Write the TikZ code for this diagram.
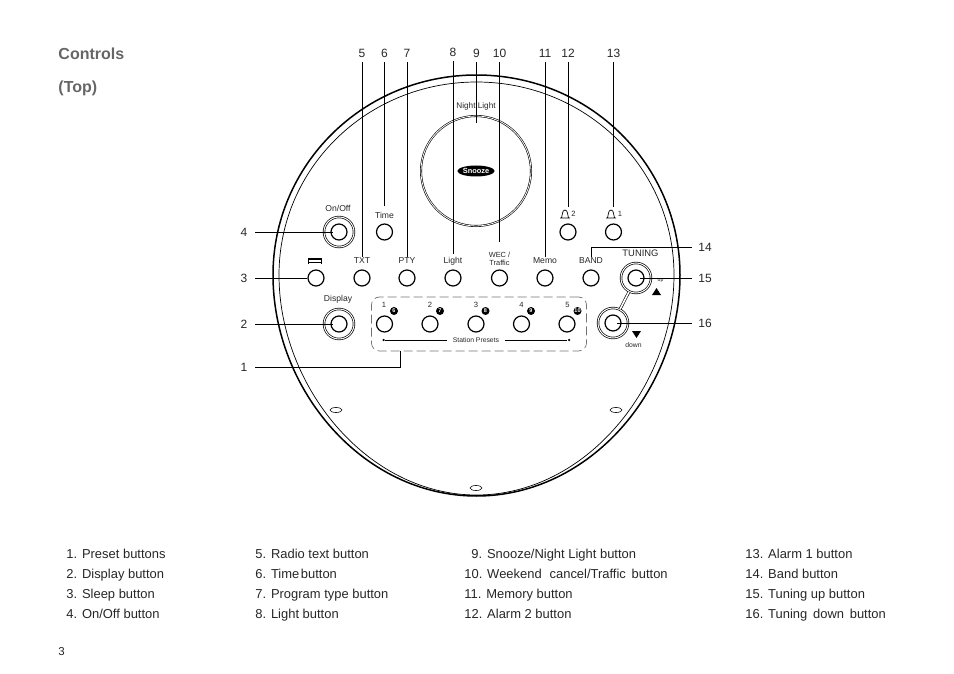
\documentclass[tikz,border=0pt]{standalone}
\usepackage{fontspec}
\setmainfont{Liberation Sans}
\usepackage{tikz}
\usetikzlibrary{shapes}
\newcommand{\bell}[1]{\draw[line width=0.7pt,shift={(#1)}] (-5,4) -- (5,4) (-3.6,4) .. controls (-2.6,2) and (-3,-4) .. (0,-4) .. controls (3,-4) and (2.6,2) .. (3.6,4);}
\begin{document}
\begin{tikzpicture}[x=1pt,y=-1pt,
line width=0.9pt,
numl/.style={inner sep=0pt,minimum width=22pt,font=\fontsize{12}{14}\selectfont,text=black!85},
numt/.style={inner sep=0pt,minimum height=18pt,font=\fontsize{12}{14}\selectfont,text=black!85},
numr/.style={inner sep=0pt,minimum width=26pt,font=\fontsize{12}{14}\selectfont,text=black!85},
btn/.style={circle,draw,line width=1.2pt,inner sep=0pt,minimum size=16pt},
bigbtn/.style={circle,draw,line width=0.7pt,double,double distance=1pt,inner sep=0pt,minimum size=30pt},
tag/.style={inner sep=1pt,font=\fontsize{8.6}{10}\selectfont,text=black!85},
tiny tag/.style={inner sep=0pt,font=\fontsize{6.8}{8}\selectfont,text=black!85},
digit/.style={inner sep=0pt,font=\fontsize{7.6}{9}\selectfont,text=black!85},
badge/.style={circle,fill=black,inner sep=0pt,minimum size=8pt,text=white,font=\fontsize{5.5}{6}\bfseries\selectfont},
dot/.style={circle,fill=black,inner sep=0pt,minimum size=2.5pt},
hole/.style={ellipse,draw,line width=0.6pt,inner sep=0pt,minimum width=12pt,minimum height=5pt},
item/.style={anchor=base west,inner sep=0pt,font=\fontsize{12.95}{15}\selectfont,text=black!85},
heading/.style={anchor=base west,inner sep=0pt,font=\fontsize{16}{18}\bfseries\selectfont,text=black!60}]
\useasboundingbox (0,0) rectangle (954,674);

\draw[line width=1.5pt] (476.5,75) .. controls (590,75) and (680,165) .. (680,275) .. controls (680,390) and (590,496) .. (476.5,496) .. controls (363,496) and (273,390) .. (273,275) .. controls (273,165) and (363,75) .. (476.5,75) -- cycle;
\draw[line width=0.7pt] (476.5,82) .. controls (586,82) and (674,168) .. (674,275) .. controls (674,386) and (586,495) .. (476.5,495) .. controls (367,495) and (279,386) .. (279,275) .. controls (279,168) and (367,82) .. (476.5,82) -- cycle;

\node [circle,draw,line width=0.6pt,double,double distance=0.8pt,inner sep=0pt,minimum size=110pt] (night) at (476,171) {};
\node [ellipse,fill=black,inner sep=0pt,minimum width=36pt,minimum height=11pt,text=white,font=\fontsize{7.4}{8}\bfseries\selectfont] (snooze) at (476,171) {Snooze};
\node [tag,font=\fontsize{8.2}{10}\selectfont] (nightlabel) at (476,106.5) {Night Light};

\node [hole] (h1) at (336,410) {};
\node [hole] (h2) at (616,410) {};
\node [hole] (h3) at (476,488) {};

\node [bigbtn] (onoff) at (339,232) {};
\node [btn] (onoffin) at (339,232) {};
\node [bigbtn] (display) at (339,324) {};
\node [btn] (displayin) at (339,324) {};
\node [bigbtn] (up) at (636,278) {};
\node [btn] (upin) at (636,278) {};
\node [bigbtn] (down) at (613,323) {};
\node [btn] (downin) at (613,323) {};
\draw [line width=0.6pt,double,double distance=1.6pt] (up) -- (down);

\node [btn] (time) at (384.5,232) {};
\node [btn] (alarmb) at (568,232) {};
\node [btn] (alarma) at (613.5,232) {};
\node [btn] (sleep) at (316,278) {};
\node [btn] (txt) at (362,278) {};
\node [btn] (pty) at (407,278) {};
\node [btn] (light) at (453,278) {};
\node [btn] (wec) at (499.5,278) {};
\node [btn] (memo) at (545,278) {};
\node [btn] (band) at (591,278) {};
\node [btn] (pa) at (384.5,324) {};
\node [btn] (pb) at (430,324) {};
\node [btn] (pc) at (476,324) {};
\node [btn] (pd) at (521.5,324) {};
\node [btn] (pe) at (567,324) {};

\node [tag] (lonoff) at (338,208) {On/Off};
\node [tag] (ltime) at (384.5,215.5) {Time};
\node [tag] (ltxt) at (362,261) {TXT};
\node [tag] (lpty) at (407,261) {PTY};
\node [tag] (llight) at (453,261) {Light};
\node [tag,align=center,font=\fontsize{7.4}{8.5}\selectfont] (lwec) at (499.5,259) {WEC /\\Traffic};
\node [tag] (lmemo) at (545,261) {Memo};
\node [tag] (lband) at (591,261) {BAND};
\node [tag,font=\fontsize{9.4}{11}\selectfont] (ltuning) at (640.5,253) {TUNING};
\node [tag] (ldisplay) at (338,299.5) {Display};
\node [tiny tag,font=\fontsize{5}{6}\selectfont] (lup) at (660.5,280.5) {up};
\node [tiny tag] (ldown) at (633.5,345) {down};

\node [digit] (la) at (384,305) {1};
\node [digit] (lb) at (430,305) {2};
\node [digit] (lc) at (476,305) {3};
\node [digit] (ld) at (521.5,305) {4};
\node [digit] (le) at (567.5,305) {5};
\node [badge] (ba) at (394,311) {6};
\node [badge] (bb) at (440,311) {7};
\node [badge] (bc) at (485.5,311) {8};
\node [badge] (bd) at (531,311) {9};
\node [badge] (be) at (577.5,311) {10};

\node [draw,black!55,dash pattern=on 9pt off 4pt,line width=0.7pt,rounded corners=8pt,inner sep=0pt,minimum width=215pt,minimum height=54pt] (presets) at (479,324) {};
\node [tiny tag,inner sep=5pt] (sp) at (476,340) {Station Presets};
\node [dot] (spl) at (383.5,340) {};
\node [dot] (spr) at (569,340) {};
\draw (spl) -- (sp);
\draw (sp) -- (spr);

\bell{565,214}
\bell{611,214}
\node [digit] (alb) at (573.5,214) {2};
\node [digit] (ala) at (620,214) {1};
\draw [line width=1.1pt] (309,259) -- (321,259);
\draw [line width=0.5pt] (309,262) -- (321,262);
\draw [line width=0.8pt] (308.5,258) -- (308.5,263.5) (321.5,258) -- (321.5,263.5);
\fill (652,295) -- (661,295) -- (656.5,288) -- cycle;
\fill (632,331) -- (641,331) -- (636.5,338) -- cycle;

\node [numl] (n4) at (244,232) {4};
\node [numl] (n3) at (244,278) {3};
\node [numl] (n2) at (244,324) {2};
\node [numl] (n1) at (244,367) {1};
\node [numt] (n5) at (362,53) {5};
\node [numt] (n6) at (384.5,53) {6};
\node [numt] (n7) at (407,53) {7};
\node [numt] (n8) at (453,52) {8};
\node [numt] (n9) at (476.5,53) {9};
\node [numt] (n10) at (499.5,53) {10};
\node [numt] (n11) at (545,53) {11};
\node [numt] (n12) at (568,53) {12};
\node [numt] (n13) at (613.5,53) {13};
\node [numr] (n14) at (705,247) {14};
\node [numr] (n15) at (705,278) {15};
\node [numr] (n16) at (705,323) {16};

\coordinate (nine) at (476.5,123);
\coordinate (twelve) at (568,207);
\coordinate (thirteen) at (613.5,207);
\coordinate (presetdrop) at (400.5,351);

\draw [shorten >=6pt] (n4) -- (onoffin.center);
\draw (n3) -- (sleep);
\draw [shorten >=6pt] (n2) -- (displayin.center);
\draw (n1) -| (presetdrop);
\draw (n5) -- (ltxt);
\draw [shorten >=5pt] (n6) -- (ltime);
\draw (n7) -- (lpty);
\draw [shorten >=2pt] (n8) -- (llight);
\draw (n9) -- (nine);
\draw [shorten >=9pt] (n10) -- (lwec);
\draw (n11) -- (lmemo);
\draw (n12) -- (twelve);
\draw (n13) -- (thirteen);
\draw (n14) -| (lband);
\draw [shorten >=4pt] (n15) -- (upin.center);
\draw [shorten >=4pt] (n16) -- (downin.center);

\node [heading] (title) at (58,59.5) {Controls};
\node [heading] (top) at (58,92.5) {(Top)};

\node [item] (i1) at (66,558.5) {1. Preset buttons};
\node [item] (i2) at (66,578.5) {2. Display button};
\node [item] (i3) at (66,598.5) {3. Sleep button};
\node [item] (i4) at (66,618.5) {4. On/Off button};
\node [item] (i5) at (255,558.5) {5. Radio text button};
\node [item] (i6) at (255,578.5) {6. Time\kern-2pt\ button};
\node [item] (i7) at (255,598.5) {7. Program type button};
\node [item] (i8) at (255,618.5) {8. Light button};
\node [item] (i9) at (471,558.5) {9. Snooze/Night Light button};
\node [item] (i10) at (464,578.5) {10. Weekend\,\,\ cancel/Traffic\,\ button};
\node [item] (i11) at (464,598.5) {11. Memory button};
\node [item] (i12) at (464,618.5) {12. Alarm 2 button};
\node [item] (i13) at (745,558.5) {13. Alarm 1 button};
\node [item] (i14) at (745,578.5) {14. Band button};
\node [item] (i15) at (745,598.5) {15. Tuning up button};
\node [item] (i16) at (745,618.5) {16. Tuning\,\ down\,\ button};
\node [item,font=\fontsize{11.5}{14}\selectfont] (page) at (58,655) {3};
\end{tikzpicture}
\end{document}
